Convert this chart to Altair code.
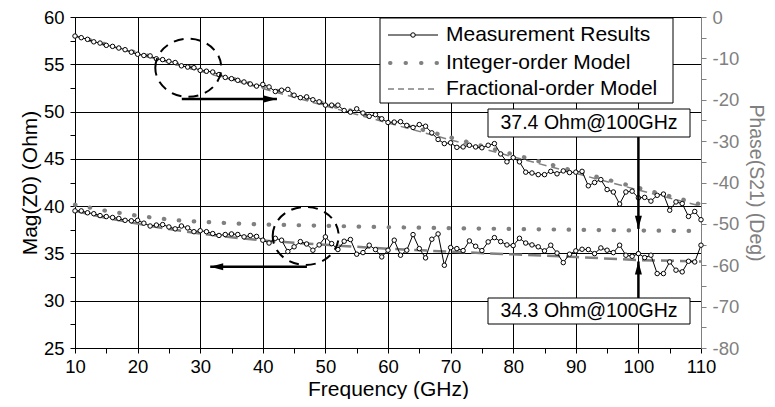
import altair as alt
import pandas as pd

# ---------------- data ----------------
freq = list(range(10, 111))  # GHz, 1 GHz sampling

mag_meas = [39.5, 39.5, 39.3, 39.2, 39.0, 38.9, 38.8, 38.7, 38.5, 38.45,
            38.5, 38.2, 37.9, 38.0, 38.05, 37.8, 37.6, 37.9, 37.7, 37.3,
            37.4, 37.3, 37.1, 36.9, 37.0, 37.06, 37.0, 36.75, 36.9, 36.8,
            36.4, 36.1, 36.6, 36.4, 35.2, 35.7, 36.25, 36.0, 35.34, 35.9,
            36.75, 36.04, 35.41, 36.29, 36.47, 34.92, 35.09, 35.87, 35.41, 34.63,
            35.34, 36.40, 34.81, 35.34, 36.99, 35.51, 34.53, 36.50, 37.06, 33.75,
            35.62, 35.51, 35.30, 36.32, 35.76, 35.30, 36.22, 36.67, 36.25, 35.9,
            35.83, 36.6, 36.1, 35.9, 35.7, 35.27, 35.87, 35.04, 34.03, 34.92,
            35.27, 35.44, 35.41, 34.98, 35.58, 35.34, 35.09, 35.87, 34.81, 34.70,
            34.98, 34.56, 34.81, 32.87, 32.87, 34.10, 33.23, 33.05, 34.17, 34.10,
            35.87]

phase_meas = [-4.6, -5.0, -5.4, -6.0, -6.3, -6.85, -7.1, -7.5, -7.9, -8.5,
              -9.0, -9.3, -9.4, -10.1, -10.3, -10.7, -11.0, -11.8, -12.1, -12.25,
              -12.9, -13.1, -13.3, -13.9, -14.6, -14.9, -15.3, -15.7, -16.2, -16.7,
              -16.3, -16.9, -18.0, -17.7, -17.5, -18.9, -19.5, -19.3, -20.0, -20.5,
              -21.3, -21.3, -21.3, -22.6, -23.0, -22.2, -23.2, -24.0, -23.6, -24.6,
              -25.5, -25.4, -25.3, -26.2, -26.7, -26.0, -26.4, -28.0, -29.6, -30.6,
              -30.4, -31.5, -31.4, -31.0, -31.4, -31.6, -31.0, -30.6, -33.1, -35.0,
              -34.0, -35.0, -37.5, -37.7, -38.1, -38.1, -37.3, -37.9, -37.2, -37.6,
              -37.5, -37.3, -40.8, -40.0, -39.3, -41.7, -42.3, -45.2, -42.3, -42.1,
              -43.7, -43.6, -44.5, -43.1, -42.8, -46.7, -44.7, -45.1, -48.2, -47.0,
              -49.0]

model_freq = [10, 15, 20, 25, 30, 35, 40, 45, 50, 55, 60, 70, 80, 90, 100, 110]
mag_int = [40.15, 39.5, 38.98, 38.58, 38.35, 38.18, 38.06, 37.99, 37.92, 37.84,
           37.77, 37.67, 37.58, 37.5, 37.42, 37.37]
mag_frac = [39.5, 38.75, 38.15, 37.58, 37.1, 36.7, 36.38, 36.12, 35.91, 35.7,
            35.5, 35.18, 34.9, 34.62, 34.3, 34.15]
phase_int = [-4.6, -6.65, -8.7, -10.75, -12.8, -14.85, -16.9, -18.95, -21.0, -23.0,
             -25.0, -29.1, -33.2, -37.3, -41.3, -45.3]
phase_frac = [-4.6, -6.75, -8.9, -11.0, -13.1, -15.2, -17.3, -19.4, -21.5, -23.55,
              -25.6, -29.7, -33.8, -37.8, -41.8, -45.7]

legend_labels = ["Measurement Results", "Integer-order Model", "Fractional-order Model"]
note_labels = ["37.4 Ohm@100GHz", "34.3 Ohm@100GHz"]

# annotation anchors (data units: GHz, Ohm)
ellipse_f = [28.1, 46.85]
ellipse_y = [54.63, 36.85]
arrow_f = [27.06, 47.05, 100, 100]
arrow_f2 = [42.26, 31.6, 100, 100]
arrow_y = [51.33, 33.58, 47.3, 30.3]
arrow_y2 = [51.33, 33.58, 37.6, 34.15]
arrow_dir = ["right", "left", "down", "up"]

# ---------------- layout / style ----------------
W, H = 626, 331
FONT = "Liberation Sans"
GRAY = "#808080"

meas = pd.DataFrame({"f": freq, "mag": mag_meas, "phase": phase_meas})
model = pd.DataFrame({"f": model_freq, "mag_int": mag_int, "mag_frac": mag_frac,
                      "phase_int": phase_int, "phase_frac": phase_frac})
ell = pd.DataFrame({"f": ellipse_f, "y": ellipse_y})
arr = pd.DataFrame({"f": arrow_f, "f2": arrow_f2, "y": arrow_y, "y2": arrow_y2})
tips = pd.DataFrame({"f": arrow_f2, "y": arrow_y2, "dir": arrow_dir})
one = pd.DataFrame({"a": [0]})

x_axis = alt.Axis(
    values=[v / 2 for v in range(20, 221, 10)],
    labelExpr="datum.value % 10 == 0 ? '' + datum.value : ''",
    grid=True, gridColor="black", gridWidth=1,
    gridOpacity={"condition": {"test": "datum.value % 10 != 0", "value": 0}, "value": 1},
    tickSize=5, tickColor="black", domainColor="black",
    labelFont=FONT, labelFontSize=18.5, labelColor="black", labelPadding=4,
    labelFlush=False, labelOverlap=False, labelBound=False,
    title="Frequency (GHz)", titleFont=FONT, titleFontSize=21, titleFontWeight="normal",
    titleColor="black", titleX=W / 2, titleY=41, titleAlign="center", titleBaseline="middle",
)
X = alt.X("f:Q", scale=alt.Scale(domain=[10, 110], nice=False, zero=False), axis=x_axis)

left_axis = alt.Axis(
    orient="left",
    values=[v / 2 for v in range(50, 121, 5)],
    labelExpr="datum.value % 5 == 0 ? '' + datum.value : ''",
    grid=True, gridColor="black", gridWidth=1,
    gridOpacity={"condition": {"test": "datum.value % 5 != 0", "value": 0}, "value": 1},
    tickSize=5, tickColor="black", domainColor="black",
    labelFont=FONT, labelFontSize=18.5, labelColor="black", labelPadding=6,
    labelOverlap=False, labelFlush=False,
    title="Mag(Z0) (Ohm)", titleFont=FONT, titleFontSize=21, titleFontWeight="normal",
    titleColor="black", titleAngle=270, titleX=-45, titleY=H / 2,
    titleAlign="center", titleBaseline="middle",
)
right_axis = alt.Axis(
    orient="right",
    values=list(range(-80, 1, 5)),
    labelExpr="datum.value % 10 == 0 ? '' + datum.value : ''",
    grid=False, tickSize=5, tickColor=GRAY, domainColor=GRAY,
    labelFont=FONT, labelFontSize=18.5, labelColor=GRAY, labelPadding=6,
    labelOverlap=False, labelFlush=False,
    title="Phase(S21) (Deg)", titleFont=FONT, titleFontSize=19.5, titleFontWeight="normal",
    titleColor=GRAY, titleAngle=90, titleX=54, titleY=H / 2,
    titleAlign="center", titleBaseline="middle",
)
left_scale = alt.Scale(domain=[25, 60], nice=False, zero=False)
right_scale = alt.Scale(domain=[-80, 0], nice=False, zero=False)


def YL(field):
    return alt.Y(f"{field}:Q", scale=left_scale, axis=left_axis)


def YR(field):
    return alt.Y(f"{field}:Q", scale=right_scale, axis=right_axis)


# ---------------- left (magnitude) ----------------
mag_frac_line = alt.Chart(model).mark_line(color=GRAY, strokeWidth=2.5, strokeDash=[13, 6]).encode(x=X, y=YL("mag_frac"))
mag_int_line = alt.Chart(model).mark_line(color=GRAY, strokeWidth=4.2, strokeDash=[0.5, 14.5], strokeCap="round").encode(x=X, y=YL("mag_int"))
mag_line = alt.Chart(meas).mark_line(color="black", strokeWidth=1).encode(x=X, y=YL("mag"))
mag_pts = alt.Chart(meas).mark_point(shape="circle", filled=True, fill="white", stroke="black",
                                     strokeWidth=1, size=20, opacity=1).encode(x=X, y=YL("mag"))
left = alt.layer(mag_frac_line, mag_int_line, mag_line, mag_pts)

# ---------------- right (phase) ----------------
ph_frac_line = alt.Chart(model).mark_line(color=GRAY, strokeWidth=1.5, strokeDash=[8, 5]).encode(x=X, y=YR("phase_frac"))
ph_int_line = alt.Chart(model).mark_line(color=GRAY, strokeWidth=4.2, strokeDash=[0.5, 14.5], strokeCap="round").encode(x=X, y=YR("phase_int"))
ph_line = alt.Chart(meas).mark_line(color="black", strokeWidth=1).encode(x=X, y=YR("phase"))
ph_pts = alt.Chart(meas).mark_point(shape="circle", filled=True, fill="white", stroke="black",
                                    strokeWidth=1, size=20, opacity=1).encode(x=X, y=YR("phase"))
right = alt.layer(ph_frac_line, ph_int_line, ph_line, ph_pts)

# ---------------- annotations ----------------
YA = alt.Y("y:Q", scale=left_scale, axis=None)
ELLIPSE = "M -1 0 A 1 0.88 0 1 1 1 0 A 1 0.88 0 1 1 -1 0 Z"
ellipses = alt.Chart(ell).mark_point(shape=ELLIPSE, filled=False, stroke="black", strokeWidth=2,
                                     strokeDash=[10, 7], size=4356, opacity=1).encode(x=X, y=YA)
arrow_lines = alt.Chart(arr).mark_rule(color="black", strokeWidth=2.5).encode(
    x=X, x2="f2:Q", y=YA, y2="y2:Q")
heads = alt.Chart(tips).mark_point(filled=True, color="black", size=676, opacity=1).encode(
    x=X, y=YA,
    shape=alt.Shape("dir:N", legend=None, scale=alt.Scale(
        domain=["right", "left", "down", "up"],
        range=["M 0 0 L -1 -0.27 L -1 0.27 Z", "M 0 0 L 1 -0.27 L 1 0.27 Z",
               "M 0 0 L -0.27 -1 L 0.27 -1 Z", "M 0 0 L -0.27 1 L 0.27 1 Z"])))


def box(x1, x2, y1, y2):
    return alt.Chart(one).mark_rect(fill="white", stroke="black", strokeWidth=1).encode(
        x=alt.value(x1), x2=alt.value(x2), y=alt.value(y1), y2=alt.value(y2))


def label(txt, px, py, align="left", size=21):
    return alt.Chart(one).mark_text(font=FONT, fontSize=size, color="black", align=align,
                                    baseline="middle").encode(
        x=alt.value(px), y=alt.value(py), text=alt.value(txt))


notes = [box(413, 615, 92, 120), label(note_labels[0], 514, 106, "center", 19.5),
         box(413, 615, 281, 307), label(note_labels[1], 514, 294, "center", 19.5)]

rows = [18, 46, 72]
leg = [box(305, 598, 1, 86)]
leg.append(alt.Chart(one).mark_rule(color="black", strokeWidth=1).encode(
    x=alt.value(313), x2=alt.value(363), y=alt.value(rows[0])))
leg.append(alt.Chart(one).mark_point(shape="circle", filled=True, fill="white", stroke="black",
                                     strokeWidth=1, size=20, opacity=1).encode(
    x=alt.value(338), y=alt.value(rows[0])))
leg.append(alt.Chart(one).mark_rule(color=GRAY, strokeWidth=4, strokeDash=[0.5, 15], strokeCap="round").encode(
    x=alt.value(315), x2=alt.value(365), y=alt.value(rows[1])))
leg.append(alt.Chart(one).mark_rule(color=GRAY, strokeWidth=1.3, strokeDash=[6, 4]).encode(
    x=alt.value(313), x2=alt.value(363), y=alt.value(rows[2])))
for t, r in zip(legend_labels, rows):
    leg.append(label(t, 371, r))

annot = alt.layer(ellipses, arrow_lines, heads, *notes, *leg)

chart = alt.layer(left, right, annot).resolve_scale(y="independent").properties(
    width=W, height=H,
    padding={"left": 67, "top": 9, "right": 66, "bottom": 51},
    autosize=alt.AutoSizeParams(type="none"),
).configure_view(stroke="black", strokeWidth=1).configure(font=FONT)

chart.save("out.html", embed_options={"renderer": "svg", "actions": False})
